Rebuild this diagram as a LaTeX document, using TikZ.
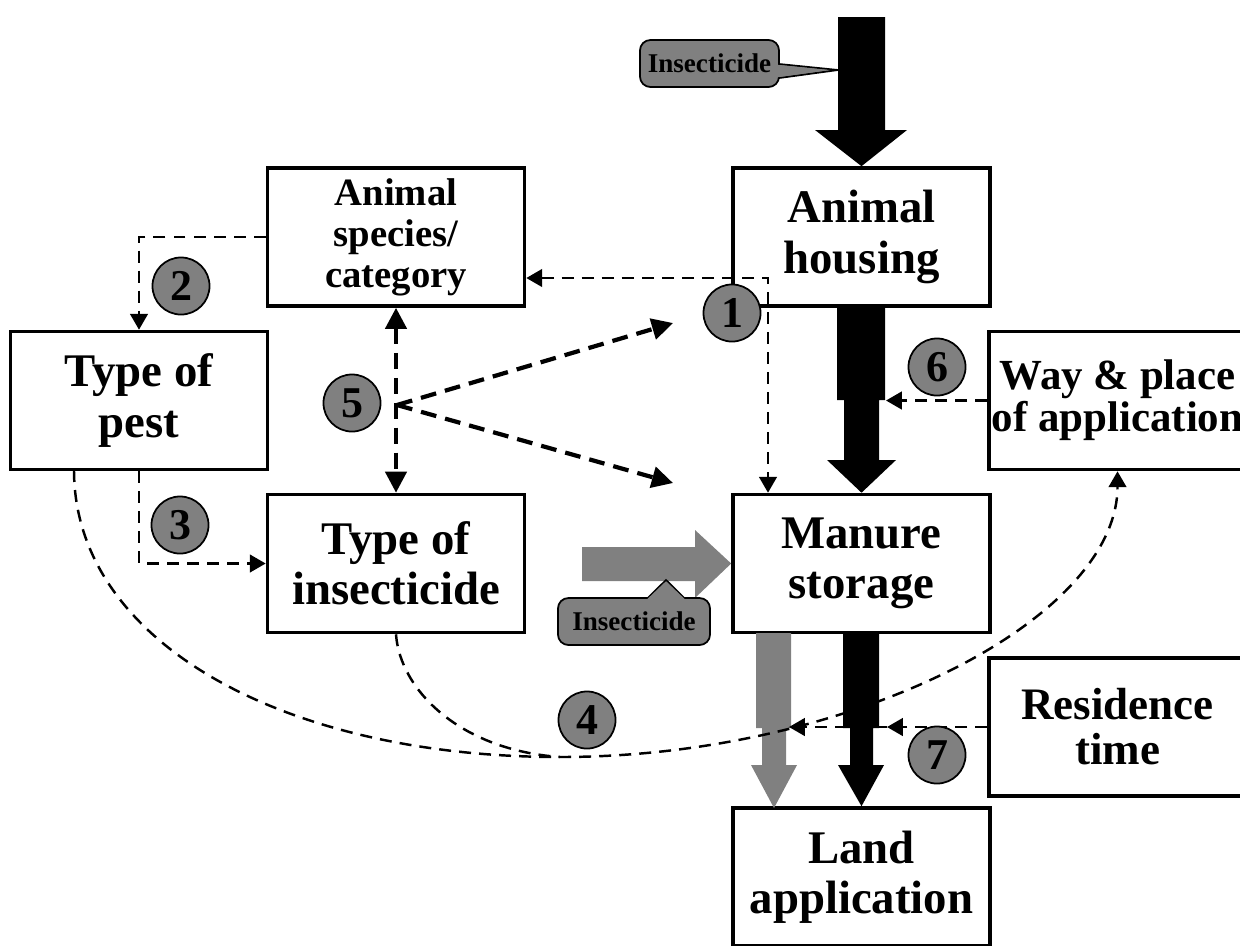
\documentclass[tikz,border=0pt]{standalone}
\usepackage{fontspec}
\setmainfont{Liberation Serif}
\usepackage{xcolor}
\usetikzlibrary{arrows.meta}

\definecolor{flowgray}{RGB}{128,128,128}

\tikzset{
  box/.style={draw, line width=1pt, minimum width=2.57cm, minimum height=1.38cm,
    inner sep=0pt, align=center, font=\fontsize{13.3}{14.3}\selectfont\bfseries},
  numc/.style={circle, draw, line width=0.5pt, fill=flowgray, minimum size=0.57cm,
    inner sep=0pt, font=\fontsize{12.5}{12.5}\selectfont\bfseries},
  callout/.style={draw, line width=0.5pt, fill=flowgray, rounded corners=3pt,
    inner sep=0pt, minimum height=0.47cm, font=\fontsize{7.7}{8}\selectfont\bfseries},
  thindash/.style={line width=0.7pt, dash pattern=on 3.4pt off 2.3pt,
    >={Triangle[length=4.5pt,width=5pt]}},
  thickdash/.style={line width=1.2pt, dash pattern=on 4.5pt off 2.6pt,
    >={Triangle[length=6pt,width=6pt]}}
}

\begin{document}
\begin{tikzpicture}[x=0.01cm, y=-0.01cm]
\useasboundingbox (0,0) rectangle (1240,945);
\clip (0,0) rectangle (1240,945);

% Boxes
\node[box, font=\fontsize{11}{11.7}\selectfont\bfseries] (species) at (396,237) {Animal\\species/\\category};
\node[box] (housing) at (861.5,237) {Animal\\housing};
\node[box] (pest) at (139,400.5) {Type of\\pest};
\node[box, font=\fontsize{12.2}{12}\selectfont\bfseries] (way) at (1117.5,400.5) {Way \& place\\of application};
\node[box] (insect) at (396,563.5) {Type of\\insecticide};
\node[box] (manure) at (861.5,563.5) {Manure\\storage};
\node[box, font=\fontsize{12.8}{12.8}\selectfont\bfseries] (resid) at (1117.5,727) {Residence\\time};
\node[box] (land) at (861.5,877) {Land\\application};

% Flow arrows
\fill (838,17) -- (885,17) -- (885,130) -- (907,130) -- (housing.north) -- (815,130) -- (838,130) -- cycle;
\fill (837,306) -- (885,306) -- (885,400) -- (879,400) -- (879,460) -- (896,460) -- (manure.north)
  -- (827,460) -- (844,460) -- (844,400) -- (837,400) -- cycle;
\fill (843,633) -- (879,633) -- (879,728) -- (873,728) -- (873,765) -- (884,765) -- (land.north)
  -- (838,765) -- (850,765) -- (850,728) -- (843,728) -- cycle;
\fill[flowgray] (756,633) -- (791,633) -- (791,728) -- (786,728) -- (786,765) -- (797,765) -- (774,808)
  -- (751,765) -- (762,765) -- (762,728) -- (756,728) -- cycle;
\fill[flowgray] (582,547) -- (695,547) -- (695,530) -- (manure.west) -- (695,598) -- (695,581) -- (582,581) -- cycle;

% Callouts
\filldraw[fill=flowgray, line width=0.5pt] (774,63.5) -- (838,70) -- (774,78.7) -- cycle;
\node[callout, minimum width=1.39cm] (ins1) at (709.5,63.5) {Insecticide};
\fill[flowgray] (774,64.5) -- (829.6,70) -- (774,77.7) -- cycle;

\filldraw[fill=flowgray, line width=0.5pt] (643.8,602) -- (666,580) -- (688.2,602) -- cycle;
\node[callout, minimum width=1.52cm] (ins2) at (634,621.5) {Insecticide};
\fill[flowgray] (645.2,601) -- (666,581.3) -- (686.8,601) -- cycle;

% Dashed links
\coordinate (bend1) at (768,278);
\draw[thindash, <->] (species.east |- bend1) -- (bend1) -- (bend1 |- manure.north);
\draw[thindash, ->] (species.west) -| (pest.north);
\draw[thindash, ->] (pest.south) |- (insect.west);

\coordinate (start4) at (74,470);
\coordinate (join4) at (560,757);
\draw[thindash, ->] (start4) .. controls (74,640) and (280,757) .. (join4)
  .. controls (850,757) and (1117.5,620) .. (way.south);
\draw[thindash] (insect.south) .. controls (400,690) and (460,750) .. (join4);

\coordinate (fork5) at (397,405);
\coordinate (end5a) at (673,323);
\coordinate (end5b) at (673,483);
\draw[thickdash, <->] (species.south) -- (insect.north);
\draw[thickdash, ->] (fork5) -- (end5a);
\draw[thickdash, ->] (fork5) -- (end5b);

\coordinate (hit6) at (886,400.5);
\draw[thindash, ->] (way.west) -- (hit6);

\coordinate (hit7a) at (887,727);
\coordinate (hit7b) at (789,727);
\draw[thindash, ->] (resid.west) -- (hit7a);
\draw[thindash, ->] (resid.west) -- (hit7b);

% Numbers
\node[numc] (n1) at (732,313) {1};
\node[numc] (n2) at (181,286) {2};
\node[numc] (n3) at (180,525) {3};
\node[numc] (n4) at (587,720) {4};
\node[numc] (n5) at (352,403) {5};
\node[numc] (n6) at (937,367) {6};
\node[numc] (n7) at (937,755) {7};
\end{tikzpicture}
\end{document}
